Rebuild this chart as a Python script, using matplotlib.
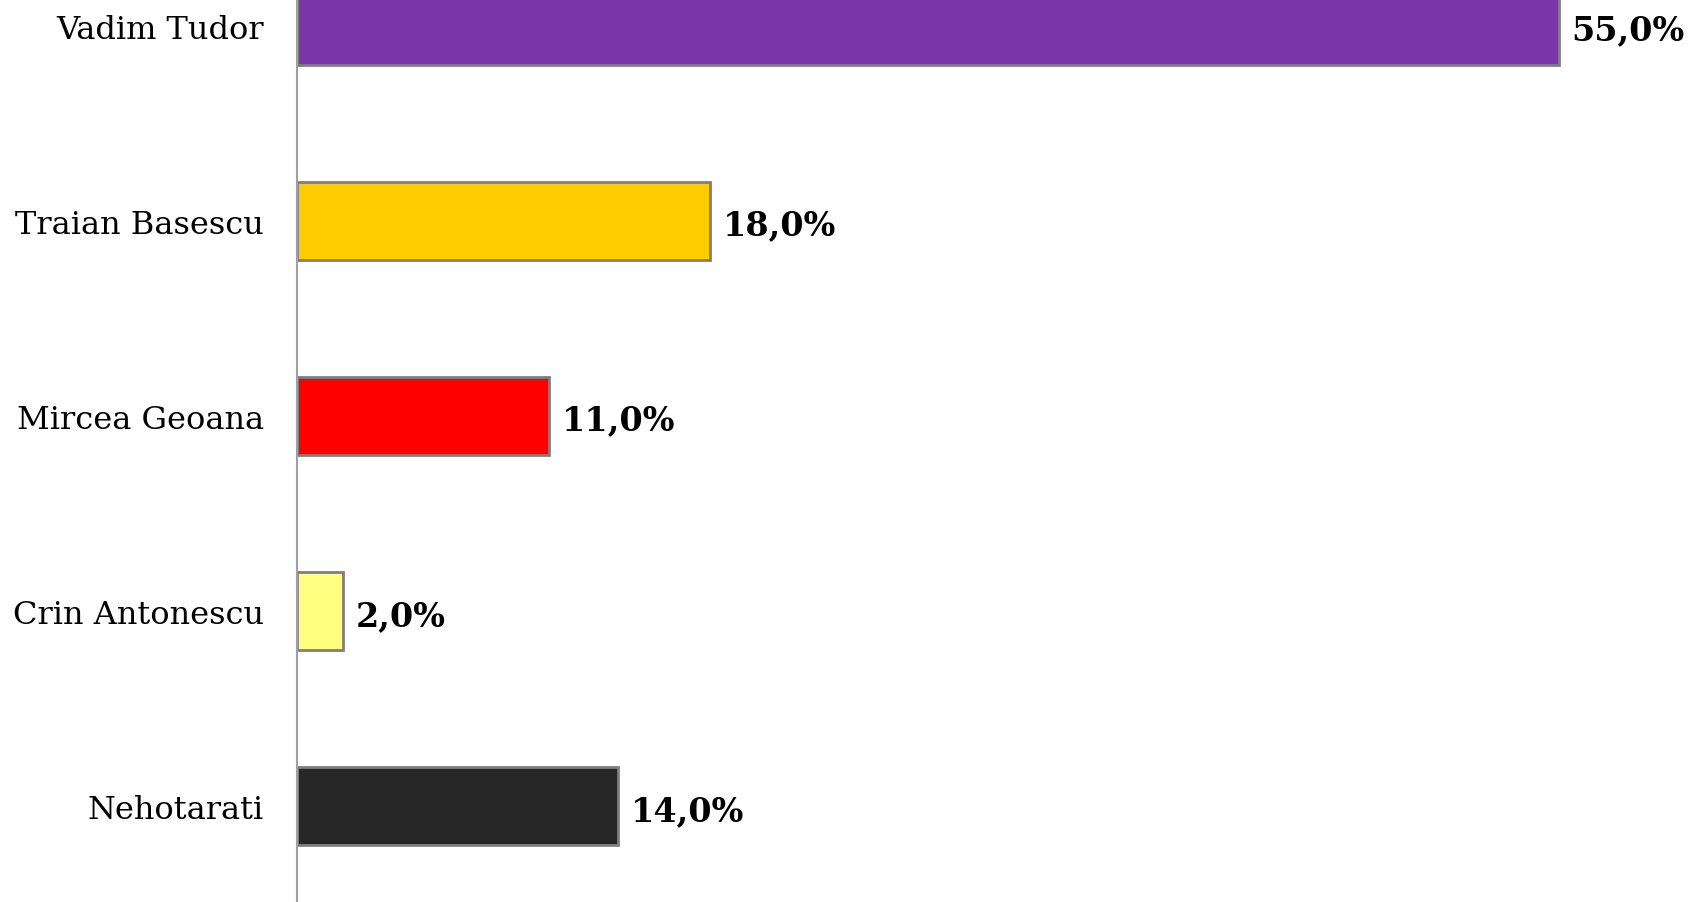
import matplotlib.pyplot as plt

# date
candidati = ['Vadim Tudor', 'Traian Basescu', 'Mircea Geoana', 'Crin Antonescu', 'Nehotarati']
procente = [55.0, 18.0, 11.0, 2.0, 14.0]
culori = ['#7A36A8', '#FFCC00', '#FF0000', '#FFFF80', '#262626']
etichete = ['55,0%', '18,0%', '11,0%', '2,0%', '14,0%']

fig = plt.figure(figsize=(16.94, 9.03), dpi=100)
ax = fig.add_axes([297 / 1694, 0, 1 - 297 / 1694, 1])

pozitii = list(range(len(candidati)))
ax.barh(pozitii, procente, height=0.4, color=culori, edgecolor='#7f7f7f', linewidth=2)

# valori
for y, v, t in zip(pozitii, procente, etichete):
    ax.text(v + 0.55, y + 0.02, t, va='center', ha='left', fontsize=24, fontweight='bold',
            family=['DejaVu Serif'])

ax.set_yticks(pozitii)
ax.set_yticklabels(candidati, fontsize=23, family=['DejaVu Serif'])
ax.tick_params(axis='y', length=0, pad=24)
ax.set_xticks([])

ax.set_xlim(0, 60.9)
ax.set_ylim(4.49, -0.138)

for s in ['top', 'right', 'bottom']:
    ax.spines[s].set_visible(False)
ax.spines['left'].set_color('#a0a0a0')
ax.spines['left'].set_linewidth(1.5)

fig.savefig('out.png', dpi=100)
